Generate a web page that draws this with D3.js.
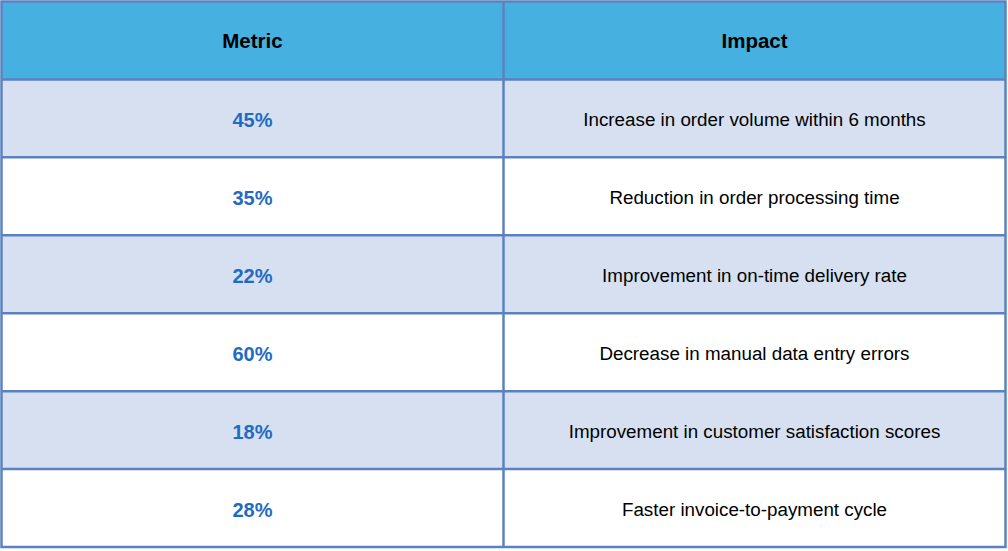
<!DOCTYPE html>
<html>
<head>
<meta charset="utf-8">
<script src="https://cdn.jsdelivr.net/npm/d3@7"></script>
<style>
  html, body { margin: 0; padding: 0; background: #ffffff; }
  svg { display: block; }
</style>
</head>
<body>
<div id="chart"></div>
<script>
// Table content
const columns = ["Metric", "Impact"];
const metrics = ["45%", "35%", "22%", "60%", "18%", "28%"];
const impacts = [
    "Increase in order volume within 6 months",
    "Reduction in order processing time",
    "Improvement in on-time delivery rate",
    "Decrease in manual data entry errors",
    "Improvement in customer satisfaction scores",
    "Faster invoice-to-payment cycle"
];

const width = 1008, height = 551;
const tbl_left = 1.5, tbl_right = 1005.5, tbl_top = 1.5, tbl_bottom = 547;
const border_color = "#5b82c0";
const header_fill = "#46b1e1";
const band_fill = "#d6e0f1";
const metric_color = "#1f6bc4";
const font = "Liberation Sans, Arial, sans-serif";

const svg = d3.select("#chart").append("svg")
    .attr("width", width)
    .attr("height", height);

// Rows: header plus one per metric
const rowKeys = ["header"].concat(metrics.map((d, i) => i));
const y = d3.scaleBand().domain(rowKeys).range([tbl_top, tbl_bottom]);
const x = d3.scaleBand().domain(columns).range([tbl_left, tbl_right]);

const rows = metrics.map((m, i) => ({ key: i, metric: m, impact: impacts[i] }));

// Header background
svg.append("rect")
    .attr("x", tbl_left).attr("y", y("header"))
    .attr("width", tbl_right - tbl_left).attr("height", y.bandwidth())
    .attr("fill", header_fill);

// Body row backgrounds
svg.selectAll("rect.row")
    .data(rows)
    .enter().append("rect")
    .attr("class", "row")
    .attr("x", tbl_left)
    .attr("y", d => y(d.key))
    .attr("width", tbl_right - tbl_left)
    .attr("height", y.bandwidth())
    .attr("fill", (d, i) => i % 2 == 0 ? band_fill : "#ffffff");

// Header labels
svg.selectAll("text.head")
    .data(columns)
    .enter().append("text")
    .attr("class", "head")
    .attr("x", d => x(d) + x.bandwidth() / 2)
    .attr("y", y("header") + y.bandwidth() / 2 + 0.5)
    .attr("text-anchor", "middle")
    .attr("dominant-baseline", "central")
    .attr("font-family", font)
    .attr("font-size", 20.5)
    .attr("font-weight", "bold")
    .attr("fill", "#000000")
    .text(d => d);

// Metric values
svg.selectAll("text.metric")
    .data(rows)
    .enter().append("text")
    .attr("class", "metric")
    .attr("x", x("Metric") + x.bandwidth() / 2)
    .attr("y", d => y(d.key) + y.bandwidth() / 2 + 1.5)
    .attr("text-anchor", "middle")
    .attr("dominant-baseline", "central")
    .attr("font-family", font)
    .attr("font-size", 20)
    .attr("font-weight", "bold")
    .attr("fill", metric_color)
    .text(d => d.metric);

// Impact descriptions
svg.selectAll("text.impact")
    .data(rows)
    .enter().append("text")
    .attr("class", "impact")
    .attr("x", x("Impact") + x.bandwidth() / 2)
    .attr("y", d => y(d.key) + y.bandwidth() / 2 + 1.5)
    .attr("text-anchor", "middle")
    .attr("dominant-baseline", "central")
    .attr("font-family", font)
    .attr("font-size", 18.8)
    .attr("fill", "#000000")
    .text(d => d.impact);

// Grid lines
const grid = svg.append("g")
    .attr("stroke", border_color)
    .attr("stroke-width", 2.5);

grid.selectAll("line.h")
    .data(rowKeys.slice(1))
    .enter().append("line")
    .attr("x1", tbl_left).attr("x2", tbl_right)
    .attr("y1", d => y(d)).attr("y2", d => y(d));

grid.append("line")
    .attr("x1", x("Impact")).attr("x2", x("Impact"))
    .attr("y1", tbl_top).attr("y2", tbl_bottom);

grid.append("rect")
    .attr("x", tbl_left).attr("y", tbl_top)
    .attr("width", tbl_right - tbl_left).attr("height", tbl_bottom - tbl_top)
    .attr("fill", "none");
</script>
</body>
</html>
